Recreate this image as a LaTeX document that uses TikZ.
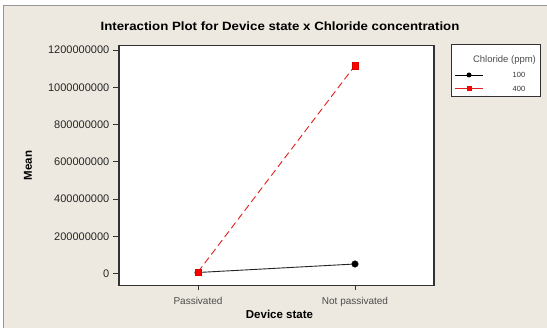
\documentclass[tikz,border=0pt]{standalone}
\usepackage{graphicx}
\usepackage{fontspec}
\setmainfont{Liberation Sans}
\definecolor{bgbeige}{RGB}{237,233,224}
\definecolor{frameg}{RGB}{150,150,150}
\definecolor{axisg}{RGB}{50,50,50}
\definecolor{lred}{RGB}{225,30,30}
\tikzset{
  ticklab/.style={font=\fontsize{11}{12}\selectfont, text=black!85, anchor=east, inner sep=0pt},
  xticklab/.style={font=\fontsize{10}{12}\selectfont, text=black!70, anchor=base, inner sep=0pt},
  axtitle/.style={font=\fontsize{11.5}{13}\selectfont\bfseries, inner sep=0pt},
  pt100/.style={circle, fill=black, draw=black, inner sep=0pt, minimum size=6.5pt},
  pt400/.style={rectangle, fill=red, draw=red!85!black, inner sep=0pt, minimum size=6.5pt},
  legdot/.style={circle, fill=black, inner sep=0pt, minimum size=5pt},
  legsq/.style={rectangle, fill=red, inner sep=0pt, minimum size=5pt},
  line100/.style={black!85, line width=0.9pt},
  line400/.style={lred, line width=0.9pt, dash pattern=on 7pt off 4pt},
  legtxt/.style={font=\fontsize{9.5}{11}\selectfont, text=black!70, inner sep=0pt},
  legnum/.style={font=\fontsize{7.5}{9}\selectfont, text=black!80, inner sep=0pt}
}
\begin{document}
\begin{tikzpicture}[x=1pt,y=-1pt]
\useasboundingbox (0,0) rectangle (547,328);
\fill[white] (0,0) rectangle (547,328);
\fill[bgbeige] (3,5) rectangle (547,328);
\draw[frameg, line width=1.2pt] (3.5,328) -- (3.5,5.5) -- (547,5.5);
% title
\node[font=\fontsize{12}{14}\selectfont\bfseries, inner sep=0pt, anchor=base] (title) at (280,30.7) {\scalebox{1.105}[1]{Interaction Plot for Device state x Chloride concentration}};
% plot area
\draw[fill=white, draw=axisg, line width=1.2pt] (119,45.5) rectangle (434,285.5);
% y ticks
\foreach \v/\lab in {0/0,1/200000000,2/400000000,3/600000000,4/800000000,5/1000000000,6/1200000000}{
  \draw[axisg, line width=0.9pt] (113,{273.5-37.25*\v}) -- (119,{273.5-37.25*\v});
  \node[ticklab] (yt\v) at (109.5,{273.5-37.25*\v}) {\lab};
}
% x ticks
\draw[axisg, line width=0.9pt] (198,285.5) -- (198,290.5);
\draw[axisg, line width=0.9pt] (355,285.5) -- (355,290.5);
\node[xticklab] (xt1) at (198,304.5) {Passivated};
\node[xticklab] (xt2) at (355,304.5) {Not passivated};
% axis titles
\node[axtitle, anchor=base] (xlab) at (279.5,318.5) {Device state};
\node[axtitle, rotate=90] (ylab) at (28,165.5) {Mean};
% data
\coordinate (b1) at (198,272.5);
\coordinate (b2) at (355,264);
\coordinate (r1) at (198,272);
\coordinate (r2) at (355,65.5);
\draw[line100] (b1) -- (b2);
\draw[line400] (r1) -- (r2);
\node[pt100] (m100a) at (b1) {};
\node[pt100] (m100b) at (b2) {};
\node[pt400] (m400a) at (r1) {};
\node[pt400] (m400b) at (r2) {};
% legend
\draw[fill=white, draw=axisg, line width=1pt] (451,44.5) rectangle (540.5,97);
\node[legtxt, anchor=base] (legt) at (504.5,62.5) {Chloride (ppm)};
\coordinate (l1a) at (455,75);
\coordinate (l1b) at (483,75);
\coordinate (l2a) at (455,88.5);
\coordinate (l2b) at (483,88.5);
\draw[black, line width=0.8pt] (l1a) -- (l1b);
\draw[lred, line width=0.8pt] (l2a) -- (l2b);
\node[legdot] (ld1) at (469,75) {};
\node[legsq] (ld2) at (469,88.5) {};
\node[legnum] (ln1) at (519,75) {100};
\node[legnum] (ln2) at (519,88.5) {400};
\end{tikzpicture}
\end{document}
